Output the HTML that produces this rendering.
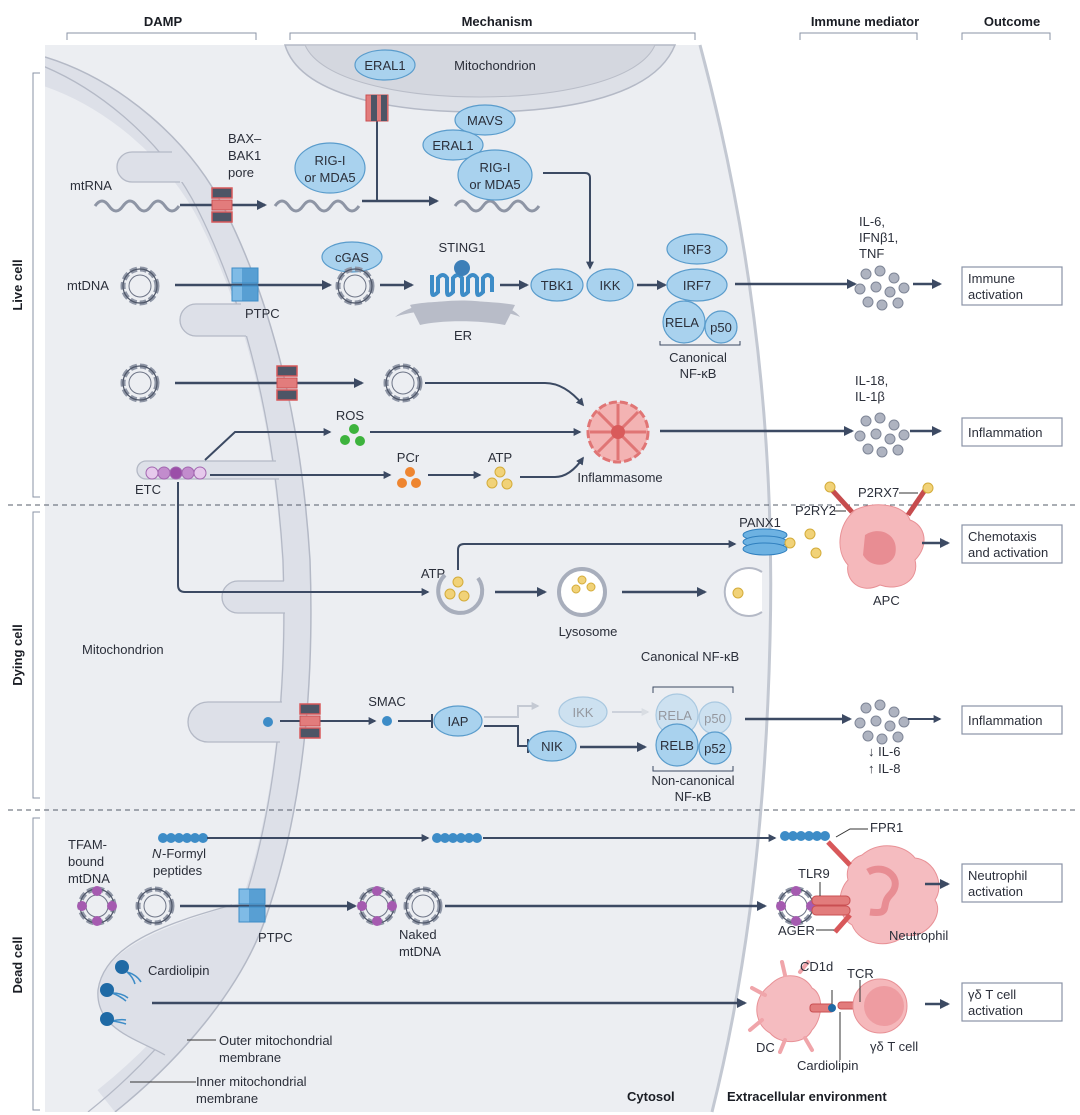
<!DOCTYPE html>
<html><head><meta charset="utf-8"><style>
html,body{margin:0;padding:0;background:#fff;}
svg{display:block;font-family:"Liberation Sans",sans-serif;}
.t{font-size:13px;fill:#2b2f3a;}
.b{font-size:13px;font-weight:bold;fill:#1a1d24;}
.ln{stroke:#3c4a63;stroke-width:2.5;fill:none;}
.lt{stroke:#3c4a63;stroke-width:2;fill:none;}
.el{fill:#a9d2ee;stroke:#5a9ccc;stroke-width:1.2;}
.box{fill:#fff;stroke:#8a93a6;stroke-width:1.2;}
.dot{fill:#aeb3c0;stroke:#7f8697;stroke-width:1;}
</style></head><body>
<svg width="1080" height="1115" viewBox="0 0 1080 1115" xmlns="http://www.w3.org/2000/svg">
<defs>
<clipPath id="cellclip"><path d="M45,45H700C755,250 775,450 770,640C765,850 740,1000 712,1112H45Z"/></clipPath>
<marker id="a" viewBox="0 0 10 10" refX="8" refY="5" markerWidth="4" markerHeight="4" orient="auto"><path d="M0,0L10,5L0,10z" fill="#3c4a63"/></marker>
<marker id="af" viewBox="0 0 10 10" refX="8" refY="5" markerWidth="4" markerHeight="4" orient="auto"><path d="M0,0L10,5L0,10z" fill="#c4c9d3"/></marker>
<g id="ring"><circle r="17" fill="none" stroke="#8e95a5" stroke-width="5" stroke-dasharray="7 3"/><circle r="17" fill="none" stroke="#4e5668" stroke-width="1.2"/><circle r="11" fill="none" stroke="#6d7486" stroke-width="1"/></g>
<g id="pore"><rect x="-10" y="-17" width="20" height="10" fill="#4d5566" stroke="#d8585a" stroke-width="1.5"/><rect x="-10" y="-5" width="20" height="10" fill="#e27c7c" stroke="#c94f52"/><rect x="-10" y="7" width="20" height="10" fill="#4d5566" stroke="#d8585a" stroke-width="1.5"/></g>
<g id="ptpc"><rect x="-13" y="-17" width="26" height="15" fill="#7fbbe6" stroke="#3d8cc7"/><rect x="-13" y="1" width="26" height="15" fill="#7fbbe6" stroke="#3d8cc7"/><rect x="-3" y="-17" width="16" height="33" fill="#3d8cc7" opacity=".6"/></g>
<g id="wave"><path d="M0,0 q7,-10 14,0 t14,0 t14,0 t14,0 t14,0 t14,0" fill="none" stroke="#8e95a5" stroke-width="3"/></g>
<g id="cyt"><circle class="dot" cx="-14" cy="-12" r="5"/><circle class="dot" cx="0" cy="-15" r="5"/><circle class="dot" cx="14" cy="-8" r="5"/><circle class="dot" cx="-20" cy="3" r="5"/><circle class="dot" cx="-4" cy="1" r="5"/><circle class="dot" cx="10" cy="6" r="5"/><circle class="dot" cx="24" cy="2" r="5"/><circle class="dot" cx="-12" cy="16" r="5"/><circle class="dot" cx="2" cy="19" r="5"/><circle class="dot" cx="18" cy="17" r="5"/></g>
<g id="tfam"><use href="#ring"/><circle cx="0" cy="-15" r="5" fill="#a55bb0"/><circle cx="-15" cy="0" r="5" fill="#a55bb0"/><circle cx="15" cy="0" r="5" fill="#a55bb0"/><circle cx="0" cy="15" r="5" fill="#a55bb0"/></g>
<g id="beads"><circle cx="0" r="5" fill="#3d8cc7"/><circle cx="8" r="5" fill="#3d8cc7"/><circle cx="16" r="5" fill="#3d8cc7"/><circle cx="24" r="5" fill="#3d8cc7"/><circle cx="32" r="5" fill="#3d8cc7"/><circle cx="40" r="5" fill="#3d8cc7"/></g>
</defs>

<!-- headers -->
<text class="b" x="163" y="26" text-anchor="middle">DAMP</text>
<text class="b" x="497" y="26" text-anchor="middle">Mechanism</text>
<text class="b" x="865" y="26" text-anchor="middle">Immune mediator</text>
<text class="b" x="1012" y="26" text-anchor="middle">Outcome</text>
<g fill="none" stroke="#8a93a6" stroke-width="1"><path d="M67,40V33H256V40"/><path d="M290,40V33H695V40"/><path d="M800,40V33H917V40"/><path d="M962,40V33H1050V40"/>
<path d="M40,73H33V497H40"/><path d="M40,512H33V798H40"/><path d="M40,818H33V1110H40"/></g>
<text class="b" transform="translate(22,285) rotate(-90)" text-anchor="middle">Live cell</text>
<text class="b" transform="translate(22,655) rotate(-90)" text-anchor="middle">Dying cell</text>
<text class="b" transform="translate(22,965) rotate(-90)" text-anchor="middle">Dead cell</text>

<!-- cell -->
<path d="M45,45H700C755,250 775,450 770,640C765,850 740,1000 712,1112H45Z" fill="#eceef2"/>
<g clip-path="url(#cellclip)">
<path d="M45,57C120,80 190,140 225,210C265,290 300,400 310,560C315,700 300,820 265,920C240,990 180,1060 115,1112" fill="none" stroke="#dde0e8" stroke-width="56"/>
<path d="M45,45L45,57C120,80 190,140 225,210C265,290 300,400 310,560C315,700 300,820 265,920C240,990 180,1060 115,1112L712,1112C740,1000 765,850 770,640C775,450 755,250 700,45Z" fill="#eceef2"/>
<path d="M45,57C120,80 190,140 225,210C265,290 300,400 310,560C315,700 300,820 265,920C240,990 180,1060 115,1112" fill="none" stroke="#b4b9c6" stroke-width="1.5"/>
<path transform="translate(-27,0)" d="M45,57C120,80 190,140 225,210C265,290 300,400 310,560C315,700 300,820 265,920C240,990 180,1060 115,1112" fill="none" stroke="#b4b9c6" stroke-width="1.3"/>
<g fill="#dde0e8" stroke="none">
<path d="M185,152H132A15,15 0 0,0 132,182H185Z"/>
<path d="M255,304H196A16,16 0 0,0 196,336H255Z"/>
<path d="M290,461H146A9,9 0 0,0 146,479H290Z"/>
<path d="M300,581H238A16,16 0 0,0 238,613H300Z"/>
<path d="M295,702H208A20,20 0 0,0 208,742H295Z"/>
<path d="M248,900C190,920 105,940 98,990C95,1030 140,1040 165,1055C185,1035 215,995 258,935Z"/>
</g>
<g fill="none" stroke="#b4b9c6" stroke-width="1.3">
<path d="M172,152H132A15,15 0 0,0 132,182H180"/>
<path d="M241,304H196A16,16 0 0,0 196,336H246"/>
<path d="M276,461H146A9,9 0 0,0 146,479H279"/>
<path d="M284,581H238A16,16 0 0,0 238,613H285"/>
<path d="M282,702H208A20,20 0 0,0 208,742H280"/>
<path d="M232,905C180,920 105,940 98,990C95,1030 140,1040 165,1055"/>
</g>
</g>
<path d="M700,45C755,250 775,450 770,640C765,850 740,1000 712,1112" fill="none" stroke="#c3c8d2" stroke-width="3"/>
<!-- top mitochondrion -->
<path d="M285,45C300,95 390,112 480,112C570,112 655,95 675,45Z" fill="#dde0e7" stroke="#b4b9c6" stroke-width="1.5"/>
<path d="M305,45C320,80 400,97 480,97C560,97 640,80 655,45Z" fill="#d4d7df" stroke="#b9bdc8"/>

<!-- dashed separators -->
<path d="M8,505H1075M8,810H1075" stroke="#555c6a" stroke-width="1" stroke-dasharray="5 4"/>

<!-- Row mtRNA -->
<text class="t" x="70" y="190">mtRNA</text>
<use href="#wave" x="95" y="206"/>
<line class="ln" x1="180" y1="205" x2="265" y2="205" marker-end="url(#a)"/>
<use href="#pore" x="222" y="205"/>
<text class="t" x="228" y="143">BAX–</text><text class="t" x="228" y="160">BAK1</text><text class="t" x="228" y="177">pore</text>
<use href="#wave" x="275" y="206"/>
<ellipse class="el" cx="330" cy="168" rx="35" ry="25"/>
<text class="t" x="330" y="165" text-anchor="middle">RIG-I</text><text class="t" x="330" y="182" text-anchor="middle">or MDA5</text>
<ellipse class="el" cx="385" cy="65" rx="30" ry="15"/><text class="t" x="385" y="70" text-anchor="middle">ERAL1</text>
<text class="t" x="495" y="70" text-anchor="middle">Mitochondrion</text>
<line class="lt" x1="377" y1="110" x2="377" y2="201"/>
<line class="ln" x1="362" y1="201" x2="437" y2="201" marker-end="url(#a)"/>
<rect x="366" y="95" width="22" height="26" fill="#e27c7c" stroke="#c94f52"/><rect x="371" y="95" width="6" height="26" fill="#4d5566"/><rect x="381" y="95" width="6" height="26" fill="#4d5566"/>
<use href="#wave" x="455" y="206"/>
<ellipse class="el" cx="485" cy="120" rx="30" ry="15"/><text class="t" x="485" y="125" text-anchor="middle">MAVS</text>
<ellipse class="el" cx="453" cy="145" rx="30" ry="15"/><text class="t" x="453" y="150" text-anchor="middle">ERAL1</text>
<ellipse class="el" cx="495" cy="175" rx="37" ry="25"/>
<text class="t" x="495" y="172" text-anchor="middle">RIG-I</text><text class="t" x="495" y="189" text-anchor="middle">or MDA5</text>
<path class="lt" d="M543,173H585Q590,173 590,178V268" marker-end="url(#a)"/>

<!-- Row mtDNA -->
<text class="t" x="67" y="290">mtDNA</text>
<use href="#ring" x="140" y="286"/>
<line class="ln" x1="175" y1="285" x2="330" y2="285" marker-end="url(#a)"/>
<use href="#ptpc" x="245" y="285"/>
<text class="t" x="245" y="318">PTPC</text>
<ellipse class="el" cx="352" cy="257" rx="30" ry="15"/><text class="t" x="352" y="262" text-anchor="middle">cGAS</text>
<use href="#ring" x="355" y="286"/>
<line class="ln" x1="380" y1="285" x2="412" y2="285" marker-end="url(#a)"/>
<path d="M395,317C420,295 505,295 520,317C500,307 420,307 395,317Z" fill="#b8bcc8"/>
<path d="M410,305C430,300 490,300 515,305L505,325C480,320 440,320 420,325Z" fill="#b8bcc8"/>
<text class="t" x="463" y="340" text-anchor="middle">ER</text>
<path d="M432,275V292q0,6 6,0V278q5,-6 9,0V292q0,6 6,0V278q5,-6 9,0V292q0,6 6,0V278q5,-6 9,0V292q0,6 6,0V278q5,-6 9,0V292" fill="none" stroke="#3d8cc7" stroke-width="4"/>
<circle cx="462" cy="268" r="8" fill="#3d7fb8"/>
<text class="t" x="462" y="252" text-anchor="middle">STING1</text>
<line class="ln" x1="500" y1="285" x2="527" y2="285" marker-end="url(#a)"/>
<ellipse class="el" cx="557" cy="285" rx="26" ry="16"/><text class="t" x="557" y="290" text-anchor="middle">TBK1</text>
<ellipse class="el" cx="610" cy="285" rx="23" ry="16"/><text class="t" x="610" y="290" text-anchor="middle">IKK</text>
<line class="ln" x1="637" y1="285" x2="665" y2="285" marker-end="url(#a)"/>
<ellipse class="el" cx="697" cy="249" rx="30" ry="15"/><text class="t" x="697" y="254" text-anchor="middle">IRF3</text>
<ellipse class="el" cx="697" cy="285" rx="30" ry="16"/><text class="t" x="697" y="290" text-anchor="middle">IRF7</text>
<circle class="el" cx="684" cy="322" r="21"/><circle class="el" cx="721" cy="327" r="16"/>
<text class="t" x="682" y="327" text-anchor="middle">RELA</text><text class="t" x="721" y="332" text-anchor="middle">p50</text>
<path d="M660,341V345H740V341" fill="none" stroke="#3c4a63"/>
<text class="t" x="698" y="362" text-anchor="middle">Canonical</text><text class="t" x="698" y="378" text-anchor="middle">NF-κB</text>
<line class="ln" x1="735" y1="284" x2="855" y2="284" marker-end="url(#a)"/>
<text class="t" x="859" y="226">IL-6,</text><text class="t" x="859" y="242">IFNβ1,</text><text class="t" x="859" y="258">TNF</text>
<use href="#cyt" x="880" y="286"/>
<line class="ln" x1="913" y1="284" x2="940" y2="284" marker-end="url(#a)"/>
<rect class="box" x="962" y="267" width="100" height="38"/>
<text class="t" x="968" y="283">Immune</text><text class="t" x="968" y="299">activation</text>

<!-- Row 3 -->
<use href="#ring" x="140" y="383"/>
<line class="ln" x1="175" y1="383" x2="362" y2="383" marker-end="url(#a)"/>
<use href="#pore" x="287" y="383"/>
<use href="#ring" x="403" y="383"/>
<path class="lt" d="M425,383H545Q565,383 583,405" marker-end="url(#a)"/>
<text class="t" x="350" y="420" text-anchor="middle">ROS</text>
<circle cx="354" cy="429" r="5" fill="#3db33d"/><circle cx="345" cy="440" r="5" fill="#3db33d"/><circle cx="360" cy="441" r="5" fill="#3db33d"/>
<path class="lt" d="M205,460L235,432H330" marker-end="url(#a)"/>
<line class="lt" x1="370" y1="432" x2="580" y2="432" marker-end="url(#a)"/>
<g stroke="#a266b0" stroke-width="1"><circle cx="152" cy="473" r="6" fill="#e6c9ec"/><circle cx="164" cy="473" r="6" fill="#c28ccd"/><circle cx="176" cy="473" r="6" fill="#9b4fa8"/><circle cx="188" cy="473" r="6" fill="#c28ccd"/><circle cx="200" cy="473" r="6" fill="#e6c9ec"/></g>
<text class="t" x="135" y="494">ETC</text>
<line class="lt" x1="210" y1="475" x2="390" y2="475" marker-end="url(#a)"/>
<text class="t" x="408" y="462" text-anchor="middle">PCr</text>
<circle cx="410" cy="472" r="5" fill="#ee8530"/><circle cx="402" cy="483" r="5" fill="#ee8530"/><circle cx="416" cy="483" r="5" fill="#ee8530"/>
<line class="lt" x1="428" y1="475" x2="480" y2="475" marker-end="url(#a)"/>
<text class="t" x="500" y="462" text-anchor="middle">ATP</text>
<circle cx="500" cy="472" r="5" fill="#f1d278" stroke="#d4ac3a"/><circle cx="492" cy="483" r="5" fill="#f1d278" stroke="#d4ac3a"/><circle cx="507" cy="484" r="5" fill="#f1d278" stroke="#d4ac3a"/>
<path class="lt" d="M520,477H555Q570,477 583,458" marker-end="url(#a)"/>
<circle cx="618" cy="432" r="30" fill="#f3b3b3" stroke="#e07575" stroke-width="3" stroke-dasharray="8 3"/>
<g stroke="#e07575" stroke-width="3"><path d="M618,404V460M590,432H646M598,412L638,452M638,412L598,452"/></g>
<circle cx="618" cy="432" r="7" fill="#d95b5b"/>
<text class="t" x="620" y="482" text-anchor="middle">Inflammasome</text>
<line class="ln" x1="660" y1="431" x2="852" y2="431" marker-end="url(#a)"/>
<text class="t" x="855" y="385">IL-18,</text><text class="t" x="855" y="401">IL-1β</text>
<use href="#cyt" x="880" y="433"/>
<line class="ln" x1="910" y1="431" x2="940" y2="431" marker-end="url(#a)"/>
<rect class="box" x="962" y="418" width="100" height="28"/>
<text class="t" x="968" y="437">Inflammation</text>

<!-- Dying -->
<path class="lt" d="M178,482V585Q178,592 185,592H428" marker-end="url(#a)"/>
<text class="t" x="433" y="578" text-anchor="middle">ATP</text>
<path d="M445,575A22,22 0 1,0 478,578" fill="none" stroke="#a8aebc" stroke-width="4"/>
<circle cx="458" cy="582" r="5" fill="#f1d278" stroke="#d4ac3a"/><circle cx="450" cy="594" r="5" fill="#f1d278" stroke="#d4ac3a"/><circle cx="464" cy="596" r="5" fill="#f1d278" stroke="#d4ac3a"/>
<path class="lt" d="M458,570V550Q458,544 464,544H735" marker-end="url(#a)"/>
<g fill="#6db2e2" stroke="#2f7fbe"><ellipse cx="765" cy="535" rx="22" ry="6"/><ellipse cx="765" cy="542" rx="22" ry="6"/><ellipse cx="765" cy="549" rx="22" ry="6"/></g>
<text class="t" x="760" y="527" text-anchor="middle">PANX1</text>
<line class="ln" x1="495" y1="592" x2="545" y2="592" marker-end="url(#a)"/>
<circle cx="582" cy="592" r="23" fill="#fff" stroke="#a8aebc" stroke-width="4"/>
<circle cx="591" cy="587" r="4" fill="#f1d278" stroke="#d4ac3a"/><circle cx="582" cy="580" r="4" fill="#f1d278" stroke="#d4ac3a"/><circle cx="576" cy="589" r="4" fill="#f1d278" stroke="#d4ac3a"/>
<text class="t" x="588" y="636" text-anchor="middle">Lysosome</text>
<line class="ln" x1="622" y1="592" x2="705" y2="592" marker-end="url(#a)"/>
<path d="M762,572A24,24 0 1,0 762,612" fill="#fff" stroke="#b4b9c6" stroke-width="2"/>
<circle cx="738" cy="593" r="5" fill="#f1d278" stroke="#d4ac3a"/>
<circle cx="790" cy="543" r="5" fill="#f1d278" stroke="#d4ac3a"/><circle cx="810" cy="534" r="5" fill="#f1d278" stroke="#d4ac3a"/><circle cx="816" cy="553" r="5" fill="#f1d278" stroke="#d4ac3a"/>
<path d="M855,510C875,500 905,505 910,520C925,525 930,545 915,560C920,580 900,592 880,585C860,595 845,580 848,565C835,550 838,525 855,510Z" fill="#f5b8bb" stroke="#e89196"/>
<path d="M865,535C880,525 900,535 895,555C890,568 870,568 863,555Z" fill="#e88d93"/>
<path d="M852,512L832,490" stroke="#c64c4e" stroke-width="5"/><circle cx="830" cy="487" r="5" fill="#f1d278" stroke="#d4ac3a"/>
<path d="M908,515L925,490" stroke="#c64c4e" stroke-width="5"/><circle cx="928" cy="488" r="5" fill="#f1d278" stroke="#d4ac3a"/>
<text class="t" x="795" y="515">P2RY2</text><path d="M834,511H846" stroke="#333"/>
<text class="t" x="858" y="497">P2RX7</text><path d="M899,493H918" stroke="#333"/>
<text class="t" x="873" y="605">APC</text>
<line class="ln" x1="922" y1="543" x2="948" y2="543" marker-end="url(#a)"/>
<rect class="box" x="962" y="525" width="100" height="38"/>
<text class="t" x="968" y="541">Chemotaxis</text><text class="t" x="968" y="557">and activation</text>
<text class="t" x="82" y="654">Mitochondrion</text>

<!-- SMAC -->
<circle cx="268" cy="722" r="5" fill="#3d8cc7"/>
<line class="lt" x1="280" y1="721" x2="375" y2="721" marker-end="url(#a)"/>
<use href="#pore" x="310" y="721"/>
<text class="t" x="387" y="706" text-anchor="middle">SMAC</text>
<circle cx="387" cy="721" r="5" fill="#3d8cc7"/>
<path class="lt" d="M398,721H432M432,714V728"/>
<ellipse class="el" cx="458" cy="721" rx="24" ry="15"/><text class="t" x="458" y="726" text-anchor="middle">IAP</text>
<path d="M484,717H518V706H538" fill="none" stroke="#c4c9d3" stroke-width="2" marker-end="url(#af)"/>
<g opacity=".45"><ellipse class="el" cx="583" cy="712" rx="24" ry="15"/><text class="t" x="583" y="717" text-anchor="middle">IKK</text>
<line x1="612" y1="712" x2="648" y2="712" stroke="#a7b0c0" stroke-width="2" marker-end="url(#af)"/>
<circle class="el" cx="677" cy="715" r="21"/><circle class="el" cx="715" cy="718" r="16"/><text class="t" x="675" y="720" text-anchor="middle">RELA</text><text class="t" x="715" y="723" text-anchor="middle">p50</text></g>
<path d="M653,693V687H733V693" fill="none" stroke="#3c4a63"/>
<text class="t" x="690" y="661" text-anchor="middle">Canonical NF-κB</text>
<path class="lt" d="M484,726H518V746H528M528,739V753"/>
<ellipse class="el" cx="552" cy="746" rx="24" ry="15"/><text class="t" x="552" y="751" text-anchor="middle">NIK</text>
<line class="ln" x1="580" y1="747" x2="645" y2="747" marker-end="url(#a)"/>
<circle class="el" cx="677" cy="745" r="21"/><circle class="el" cx="715" cy="748" r="16"/>
<text class="t" x="677" y="750" text-anchor="middle">RELB</text><text class="t" x="715" y="753" text-anchor="middle">p52</text>
<path d="M653,766V771H733V766" fill="none" stroke="#3c4a63"/>
<text class="t" x="693" y="785" text-anchor="middle">Non-canonical</text><text class="t" x="693" y="801" text-anchor="middle">NF-κB</text>
<line class="ln" x1="745" y1="719" x2="850" y2="719" marker-end="url(#a)"/>
<use href="#cyt" x="880" y="720"/>
<text class="t" x="868" y="756">↓ IL-6</text><text class="t" x="868" y="773">↑ IL-8</text>
<line class="lt" x1="908" y1="719" x2="940" y2="719" marker-end="url(#a)"/>
<rect class="box" x="962" y="706" width="100" height="28"/>
<text class="t" x="968" y="725">Inflammation</text>

<!-- Dead -->
<text class="t" x="68" y="849">TFAM-</text><text class="t" x="68" y="866">bound</text><text class="t" x="68" y="883">mtDNA</text>
<use href="#beads" x="163" y="838"/>
<text class="t" x="152" y="858" font-style="italic">N</text><text class="t" x="162" y="858">-Formyl</text><text class="t" x="153" y="875">peptides</text>
<line class="lt" x1="207" y1="838" x2="428" y2="838" marker-end="url(#a)"/>
<use href="#beads" x="437" y="838"/>
<line class="lt" x1="483" y1="838" x2="775" y2="838" marker-end="url(#a)"/>
<use href="#beads" x="785" y="836"/>
<use href="#tfam" x="97" y="906"/>
<use href="#ring" x="155" y="906"/>
<line class="ln" x1="180" y1="906" x2="355" y2="906" marker-end="url(#a)"/>
<use href="#ptpc" x="252" y="906"/>
<text class="t" x="258" y="942">PTPC</text>
<use href="#tfam" x="377" y="906"/>
<use href="#ring" x="423" y="906"/>
<text class="t" x="399" y="939">Naked</text><text class="t" x="399" y="956">mtDNA</text>
<line class="ln" x1="445" y1="906" x2="765" y2="906" marker-end="url(#a)"/>
<!-- neutrophil -->
<path d="M862,855C880,840 905,845 915,858C935,860 945,885 935,900C945,915 925,940 905,935C890,950 860,945 852,925C835,915 838,890 848,880C845,868 852,858 862,855Z" fill="#f5bcc0" stroke="#e89196"/>
<path d="M868,872C885,862 905,880 890,895C880,905 892,915 870,912" fill="none" stroke="#e88d93" stroke-width="7"/>
<path d="M828,842L850,865" stroke="#d8585a" stroke-width="5"/>
<text class="t" x="870" y="832">FPR1</text><path d="M836,837L850,829H868" fill="none" stroke="#333"/>
<use href="#tfam" x="796" y="906"/>
<rect x="812" y="896" width="38" height="9" rx="4" fill="#e27c7c" stroke="#c94f52"/><rect x="812" y="906" width="38" height="9" rx="4" fill="#e27c7c" stroke="#c94f52"/>
<path d="M820,896V882" stroke="#333"/>
<text class="t" x="798" y="878">TLR9</text>
<path d="M835,932L850,915" stroke="#d8585a" stroke-width="5"/>
<text class="t" x="778" y="935">AGER</text><path d="M816,930H834" stroke="#333"/>
<text class="t" x="889" y="940">Neutrophil</text>
<line class="ln" x1="925" y1="884" x2="948" y2="884" marker-end="url(#a)"/>
<rect class="box" x="962" y="864" width="100" height="38"/>
<text class="t" x="968" y="880">Neutrophil</text><text class="t" x="968" y="896">activation</text>
<!-- cardiolipin -->
<g fill="none" stroke="#3d8cc7" stroke-width="1.5"><path d="M127,972q6,5 8,12M127,972q10,3 14,10"/><path d="M112,993q8,3 14,8M112,993q10,0 16,5"/><path d="M112,1021q8,1 14,3M112,1021q8,-2 14,-1"/></g>
<circle cx="122" cy="967" r="7" fill="#1f6aa5"/><circle cx="107" cy="990" r="7" fill="#1f6aa5"/><circle cx="107" cy="1019" r="7" fill="#1f6aa5"/>
<text class="t" x="148" y="975">Cardiolipin</text>
<line class="ln" x1="152" y1="1003" x2="745" y2="1003" marker-end="url(#a)"/>
<path d="M770,985C785,970 805,975 812,988C825,995 822,1020 812,1030C805,1045 780,1045 770,1033C755,1025 750,1000 770,985Z" fill="#f5bcc0" stroke="#e89196"/>
<g stroke="#f0a5aa" stroke-width="4" stroke-linecap="round"><path d="M785,975L782,962M800,972L808,962M765,995L752,988M762,1020L750,1030M785,1040L780,1052M805,1038L812,1050"/></g>
<rect x="810" y="1004" width="24" height="8" rx="3" fill="#e27c7c" stroke="#c94f52"/>
<circle cx="832" cy="1008" r="4" fill="#1f6aa5"/>
<rect x="838" y="1002" width="38" height="7" rx="3" fill="#e27c7c" stroke="#c94f52"/>
<circle cx="880" cy="1006" r="27" fill="#f5b8bb" stroke="#e89196"/><circle cx="884" cy="1006" r="20" fill="#ee9ca1"/>
<path d="M832,990V1004M860,980V1002M840,1012V1060" stroke="#333"/>
<text class="t" x="800" y="971">CD1d</text><text class="t" x="847" y="978">TCR</text>
<text class="t" x="756" y="1052">DC</text><text class="t" x="797" y="1070">Cardiolipin</text><text class="t" x="870" y="1051">γδ T cell</text>
<line class="ln" x1="925" y1="1004" x2="948" y2="1004" marker-end="url(#a)"/>
<rect class="box" x="962" y="983" width="100" height="38"/>
<text class="t" x="968" y="999">γδ T cell</text><text class="t" x="968" y="1015">activation</text>
<path d="M187,1040H216M130,1082H196" stroke="#333"/>
<text class="t" x="219" y="1045">Outer mitochondrial</text><text class="t" x="219" y="1062">membrane</text>
<text class="t" x="196" y="1086">Inner mitochondrial</text><text class="t" x="196" y="1103">membrane</text>
<text class="b" x="627" y="1101">Cytosol</text>
<text class="b" x="727" y="1101">Extracellular environment</text>
</svg>
</body></html>
